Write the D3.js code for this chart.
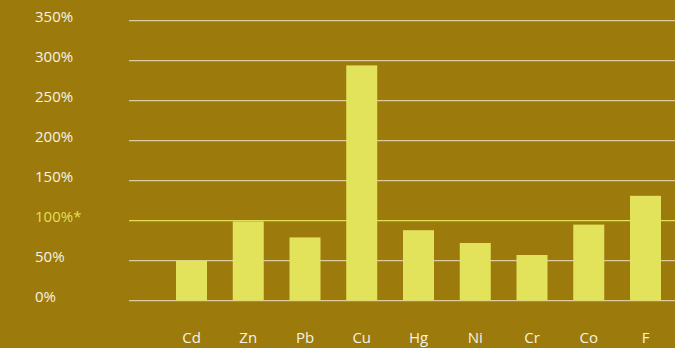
<!DOCTYPE html>
<html><head><meta charset="utf-8">
<script src="https://cdn.jsdelivr.net/npm/d3@7"></script>
<style>html,body{margin:0;padding:0;background:#9c7a0c;}svg{display:block;}</style>
</head><body><svg id="c" width="675" height="348"></svg>
<script>
const categories = ["Cd","Zn","Pb","Cu","Hg","Ni","Cr","Co","F"];
const values = [50, 99, 79, 294, 88, 72, 57, 95, 131];
const yTicks = [0,50,100,150,200,250,300,350];
const yTickLabels = ["0%","50%","100%*","150%","200%","250%","300%","350%"];

const svg = d3.select("#c");
const W = 675, H = 348;
svg.append("rect").attr("width",W).attr("height",H).attr("fill","#9c7a0c");
const font = "'Open Sans', 'Noto Sans', sans-serif";

const y = d3.scaleLinear().domain([0,350]).range([300.6, 20.6]);
const x = d3.scaleBand().domain(categories).range([129, 708]).paddingInner(0.4537).paddingOuter(0.828);

const gridG = svg.append("g");
gridG.selectAll("line").data(yTicks).join("line")
  .attr("x1",129).attr("x2",W)
  .attr("y1",d=>y(d)).attr("y2",d=>y(d))
  .attr("stroke",d=>d===100?"#e2df56":"#dccb9c")
  .attr("stroke-width",1.3);

const yAxis = d3.axisLeft(y).tickValues(yTicks).tickSize(0)
  .tickFormat((d,i)=>yTickLabels[i]);
const ya = svg.append("g").attr("transform","translate(35,0)").call(yAxis);
ya.select(".domain").remove();
ya.selectAll("text")
  .attr("text-anchor","start").attr("x",0).attr("dy","0.05em")
  .attr("font-family",font).attr("font-size","15px")
  .attr("fill",d=>d===100?"#e2df56":"#f7f2e4");

svg.append("g").selectAll("rect").data(categories).join("rect")
  .attr("x",d=>x(d)).attr("width",x.bandwidth())
  .attr("y",(d,i)=>y(values[i])).attr("height",(d,i)=>y(0)-y(values[i]))
  .attr("fill","#e2e35a");

const xAxis = d3.axisBottom(x).tickSize(0);
const xa = svg.append("g").attr("transform","translate(0,329)").call(xAxis);
xa.select(".domain").remove();
xa.selectAll("text").attr("font-family",font).attr("font-size","15px").attr("fill","#f7f2e4");
</script></body></html>
